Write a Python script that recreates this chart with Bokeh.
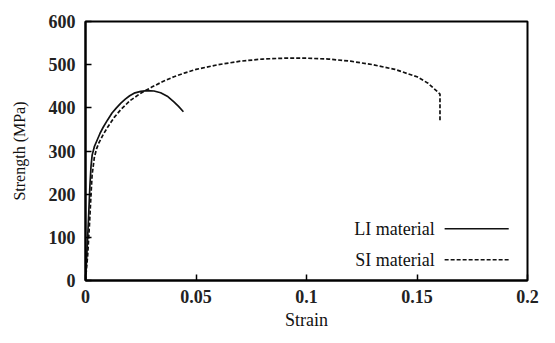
from bokeh.plotting import figure
from bokeh.models import Range1d, FixedTicker, Label
from bokeh.embed import file_html
from bokeh.resources import INLINE

# ---- data ----
li_strain = [0.0, 0.0008, 0.0015, 0.002, 0.0025, 0.003, 0.004, 0.005, 0.0065, 0.008, 0.010, 0.012,
             0.014, 0.016, 0.018, 0.020, 0.022, 0.025, 0.028, 0.031, 0.034, 0.037, 0.040, 0.042, 0.0443]
li_stress = [0, 80, 160, 220, 265, 290, 310, 322, 340, 355, 372, 388,
             400, 411, 420, 428, 434, 438, 440, 439, 435, 427, 414, 404, 391]

si_strain = [0.0, 0.001, 0.0018, 0.0025, 0.003, 0.004, 0.005, 0.006, 0.008, 0.010, 0.013, 0.016, 0.020,
             0.025, 0.030, 0.035, 0.040, 0.045, 0.050, 0.060, 0.070, 0.080, 0.090, 0.100,
             0.110, 0.120, 0.130, 0.140, 0.150, 0.155, 0.1604, 0.1604]
si_stress = [0, 60, 130, 200, 245, 285, 305, 318, 338, 355, 378, 396, 416,
             434, 448, 461, 472, 481, 489, 500, 508, 513, 515, 515,
             513, 508, 500, 489, 472, 457, 432, 368]

x_ticks = [0, 0.05, 0.1, 0.15, 0.2]
x_tick_labels = ["0", "0.05", "0.1", "0.15", "0.2"]
y_ticks = [0, 100, 200, 300, 400, 500, 600]
series_names = ["LI material", "SI material"]

FONT = "Liberation Serif"

p = figure(width=539, height=327, output_backend="svg", toolbar_location=None,
           x_range=Range1d(0, 0.2), y_range=Range1d(0, 600),
           min_border_left=85, min_border_right=12, min_border_top=21, min_border_bottom=10)
p.frame_width = 442
p.frame_height = 259
p.xgrid.visible = False
p.ygrid.visible = False
p.outline_line_color = "black"
p.outline_line_width = 2
p.outline_line_alpha = 1
p.background_fill_color = "white"
p.border_fill_color = "white"

xax = p.xaxis[0]
yax = p.yaxis[0]

p.line(li_strain, li_stress, line_color="#111111", line_width=1.7)
p.line(si_strain, si_stress, line_color="#111111", line_width=1.7, line_dash="4 2")

for ax in (xax, yax):
    ax.axis_line_color = "black"
    ax.axis_line_width = 2
    ax.major_tick_in = 6
    ax.major_tick_out = 0
    ax.major_tick_line_width = 1.5
    ax.major_tick_line_color = "black"
    ax.minor_tick_line_color = None
    ax.major_label_text_font = FONT
    ax.major_label_text_font_style = "bold"
    ax.major_label_text_font_size = "18px"
    ax.major_label_text_color = "#222222"
    ax.axis_label_text_font = FONT
    ax.axis_label_text_font_style = "normal"
    ax.axis_label_text_color = "#111111"

xax.axis_label_text_font_size = "18px"
yax.axis_label_text_font_size = "16px"
xax.ticker = FixedTicker(ticks=x_ticks)
xax.major_label_overrides = {t: l for t, l in zip(x_ticks, x_tick_labels)}
yax.ticker = FixedTicker(ticks=y_ticks)
xax.axis_label = "Strain"
yax.axis_label = "Strength (MPa)"
xax.major_label_standoff = 9
yax.major_label_standoff = 10
xax.axis_label_standoff = 4
yax.axis_label_standoff = 18

# legend (manual, label left of sample)
leg_y = [120, 48]
leg_dash = ["solid", "4 2"]
for name, yy, dash in zip(series_names, leg_y, leg_dash):
    p.add_layout(Label(x=0.158, y=yy, text=name, text_align="right", text_baseline="middle",
                       text_font=FONT, text_font_size="18px", text_color="#111111"))
    p.line([0.1625, 0.1915], [yy, yy], line_color="#111111", line_width=1.4, line_dash=dash)

open("out.html", "w").write(file_html(p, INLINE))
